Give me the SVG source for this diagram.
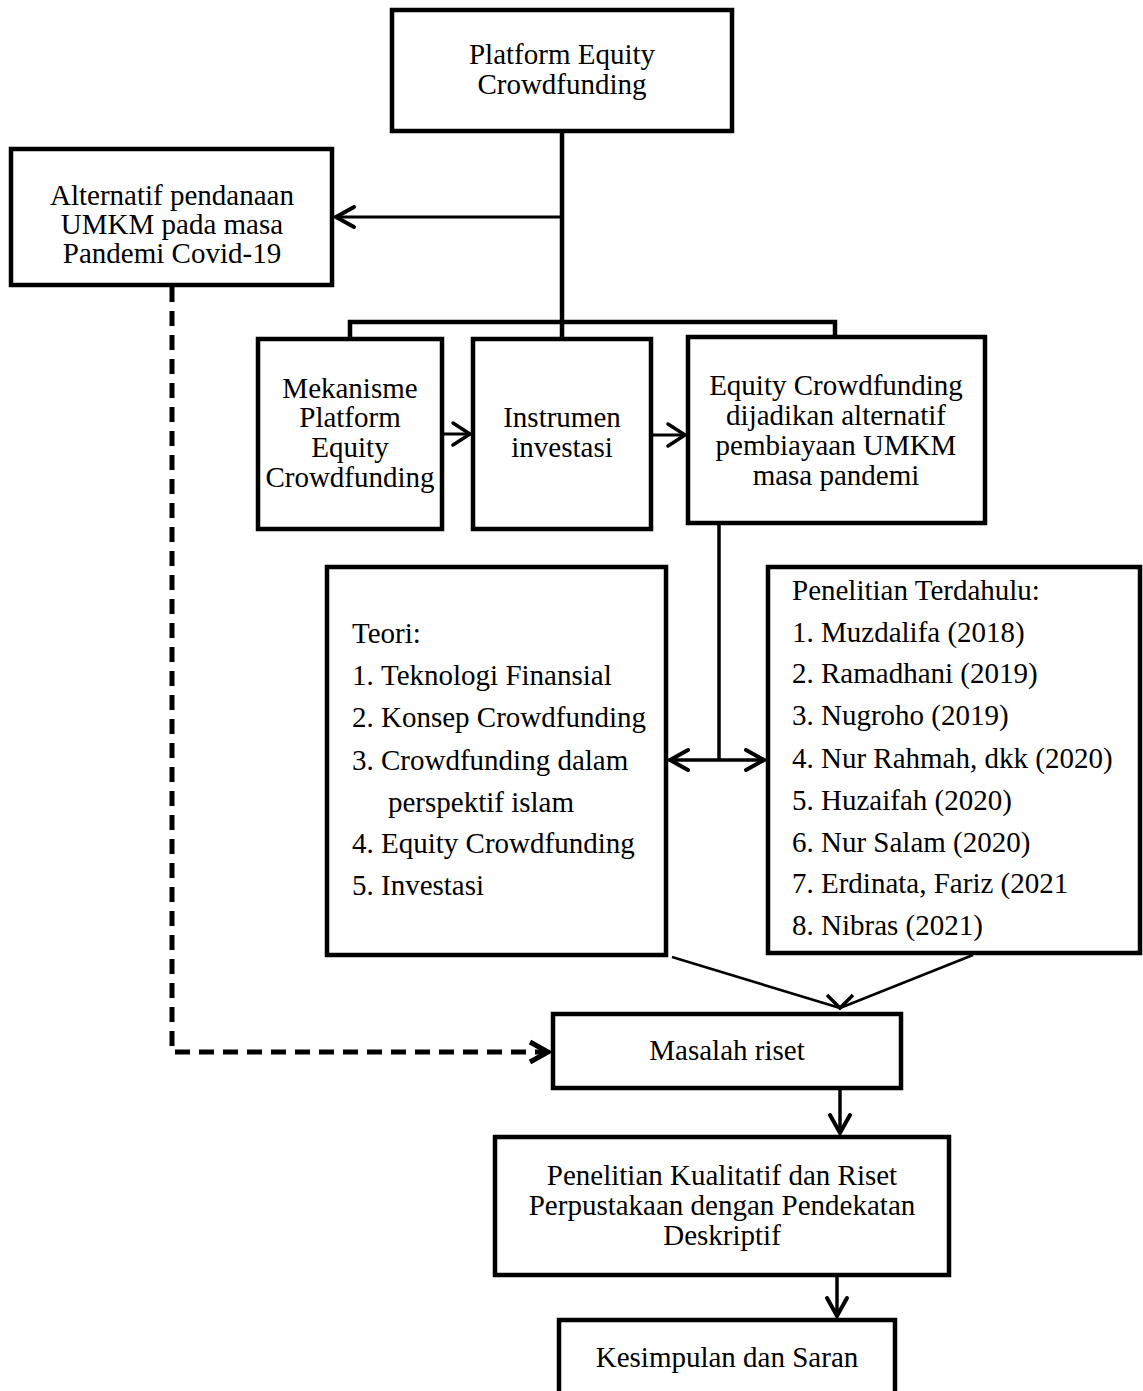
<svg xmlns="http://www.w3.org/2000/svg" width="1143" height="1391" viewBox="0 0 1143 1391">
<style>
.box{fill:#fff;stroke:#000;stroke-width:4.5}
.t{font-family:"Liberation Serif","Times New Roman",serif;font-size:29px;fill:#000}
.c{text-anchor:middle}
.ln{fill:none;stroke:#000}
</style>
<defs>
<marker id="ah" markerUnits="userSpaceOnUse" markerWidth="40" markerHeight="40" refX="0" refY="0" viewBox="-30 -20 40 40" orient="auto-start-reverse" overflow="visible">
<path d="M-18,-10 L0,0 L-18,10" fill="none" stroke="#000" stroke-width="4" stroke-linecap="round" stroke-linejoin="miter"/>
</marker>
<marker id="ahs" markerUnits="userSpaceOnUse" markerWidth="40" markerHeight="40" refX="0" refY="0" viewBox="-30 -20 40 40" orient="auto" overflow="visible">
<path d="M-17,-11 L0,0 L-17,11" fill="none" stroke="#000" stroke-width="3.5" stroke-linecap="round"/>
</marker>
</defs>
<rect width="1143" height="1391" fill="#fff"/>
<g id="connectors">
<line class="ln" x1="562" y1="133" x2="562" y2="337" stroke-width="4.5"/>
<polyline class="ln" points="350,337 350,322 835,322 835,335" stroke-width="4.5"/>
<line class="ln" x1="562" y1="217" x2="336" y2="217" stroke-width="3" marker-end="url(#ah)"/>
<line class="ln" x1="444" y1="434" x2="470" y2="434" stroke-width="3" marker-end="url(#ahs)"/>
<line class="ln" x1="653" y1="435" x2="685" y2="435" stroke-width="3" marker-end="url(#ahs)"/>
<line class="ln" x1="719" y1="525" x2="719" y2="760" stroke-width="3.5"/>
<line class="ln" x1="670" y1="760" x2="764" y2="760" stroke-width="3.5" marker-start="url(#ah)" marker-end="url(#ah)"/>
<line class="ln" x1="672" y1="957" x2="840" y2="1008" stroke-width="2.5"/>
<line class="ln" x1="973" y1="955" x2="840" y2="1008" stroke-width="2.5"/>
<path class="ln" d="M827,995 L840,1008 L853,995" stroke-width="3.5"/>
<polyline class="ln" points="172,287 172,1052 548,1052" stroke-width="5" stroke-dasharray="15 9"/>
<path class="ln" d="M530,1042 L548,1052 L530,1062" stroke-width="5"/>
<line class="ln" x1="840" y1="1090" x2="840" y2="1133" stroke-width="3.5" marker-end="url(#ah)"/>
<line class="ln" x1="837" y1="1277" x2="837" y2="1316" stroke-width="3.5" marker-end="url(#ah)"/>
</g>
<g id="n-platform">
<rect class="box" x="392" y="10" width="340" height="121"/>
<text class="t c" x="562" y="64">Platform Equity</text>
<text class="t c" x="562" y="94">Crowdfunding</text>
</g>
<g id="n-alternatif">
<rect class="box" x="11" y="149" width="321" height="136"/>
<text class="t c" x="172" y="205">Alternatif pendanaan</text>
<text class="t c" x="172" y="234">UMKM pada masa</text>
<text class="t c" x="172" y="263">Pandemi Covid-19</text>
</g>
<g id="n-mekanisme">
<rect class="box" x="258" y="339" width="184" height="190"/>
<text class="t c" x="350" y="398">Mekanisme</text>
<text class="t c" x="350" y="427">Platform</text>
<text class="t c" x="350" y="457">Equity</text>
<text class="t c" x="350" y="487">Crowdfunding</text>
</g>
<g id="n-instrumen">
<rect class="box" x="473" y="339" width="178" height="190"/>
<text class="t c" x="562" y="427">Instrumen</text>
<text class="t c" x="562" y="457">investasi</text>
</g>
<g id="n-equity">
<rect class="box" x="688" y="337" width="297" height="186"/>
<text class="t c" x="836" y="395">Equity Crowdfunding</text>
<text class="t c" x="836" y="425">dijadikan alternatif</text>
<text class="t c" x="836" y="455">pembiayaan UMKM</text>
<text class="t c" x="836" y="485">masa pandemi</text>
</g>
<g id="n-teori">
<rect class="box" x="327" y="567" width="339" height="388"/>
<text class="t" x="352" y="643">Teori:</text>
<text class="t" y="685"><tspan x="352">1.</tspan><tspan x="381">Teknologi Finansial</tspan></text>
<text class="t" y="727"><tspan x="352">2.</tspan><tspan x="381">Konsep Crowdfunding</tspan></text>
<text class="t" y="770"><tspan x="352">3.</tspan><tspan x="381">Crowdfunding dalam</tspan></text>
<text class="t" x="388" y="812">perspektif islam</text>
<text class="t" y="853"><tspan x="352">4.</tspan><tspan x="381">Equity Crowdfunding</tspan></text>
<text class="t" y="895"><tspan x="352">5.</tspan><tspan x="381">Investasi</tspan></text>
</g>
<g id="n-penelitian">
<rect class="box" x="768" y="567" width="372" height="386"/>
<text class="t" x="792" y="600">Penelitian Terdahulu:</text>
<text class="t" y="642"><tspan x="792">1.</tspan><tspan x="821">Muzdalifa (2018)</tspan></text>
<text class="t" y="683"><tspan x="792">2.</tspan><tspan x="821">Ramadhani (2019)</tspan></text>
<text class="t" y="725"><tspan x="792">3.</tspan><tspan x="821">Nugroho (2019)</tspan></text>
<text class="t" y="768"><tspan x="792">4.</tspan><tspan x="821">Nur Rahmah, dkk (2020)</tspan></text>
<text class="t" y="810"><tspan x="792">5.</tspan><tspan x="821">Huzaifah (2020)</tspan></text>
<text class="t" y="852"><tspan x="792">6.</tspan><tspan x="821">Nur Salam (2020)</tspan></text>
<text class="t" y="893"><tspan x="792">7.</tspan><tspan x="821">Erdinata, Fariz (2021</tspan></text>
<text class="t" y="935"><tspan x="792">8.</tspan><tspan x="821">Nibras (2021)</tspan></text>
</g>
<g id="n-masalah">
<rect class="box" x="553" y="1014" width="348" height="74"/>
<text class="t c" x="727" y="1060">Masalah riset</text>
</g>
<g id="n-metode">
<rect class="box" x="495" y="1137" width="454" height="138"/>
<text class="t c" x="722" y="1185">Penelitian Kualitatif dan Riset</text>
<text class="t c" x="722" y="1215">Perpustakaan dengan Pendekatan</text>
<text class="t c" x="722" y="1245">Deskriptif</text>
</g>
<g id="n-kesimpulan">
<rect class="box" x="559" y="1320" width="336" height="100"/>
<text class="t c" x="727" y="1367">Kesimpulan dan Saran</text>
</g>
</svg>
